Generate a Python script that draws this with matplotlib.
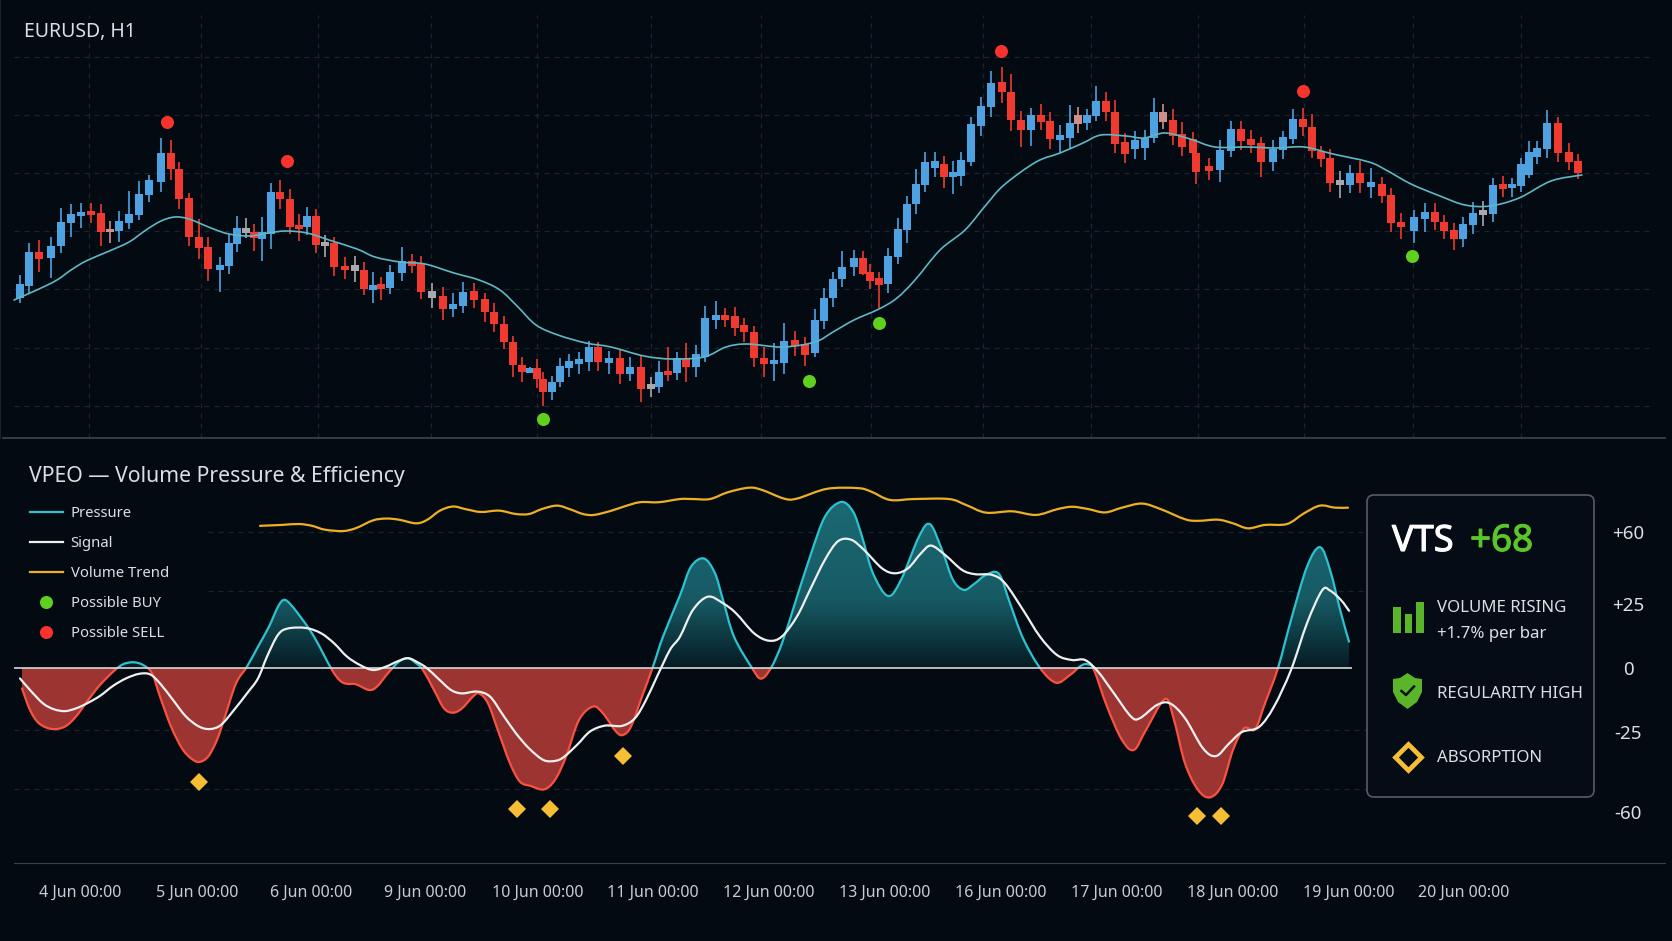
import numpy as np
import matplotlib
matplotlib.use('Agg')
import matplotlib.pyplot as plt
import matplotlib.patheffects as pe
from matplotlib.colors import LinearSegmentedColormap
from matplotlib.lines import Line2D
from matplotlib.patches import FancyBboxPatch, PathPatch, Polygon, Rectangle
from matplotlib.path import Path

plt.rcParams['font.family'] = ['Noto Sans', 'DejaVu Sans']

# candles, the time axis is in chart position units
bar_time = [20, 29, 39, 51, 61, 71, 81, 91, 101, 110, 119, 129, 139, 149, 161, 171, 179, 189, 199, 208,
            220, 229, 237, 246, 254, 262, 271, 280, 290, 299, 307, 316, 325, 334, 345, 355, 364, 373, 381, 390,
            402, 412, 421, 432, 443, 453, 463, 474, 485, 494, 504, 513, 522, 530, 537, 543, 552, 560, 569, 579,
            589, 598, 609, 620, 630, 641, 651, 659, 668, 677, 686, 696, 705, 716, 725, 735, 744, 754, 764, 774,
            784, 795, 805, 815, 824, 833, 842, 854, 863, 870, 879, 888, 898, 907, 916, 925, 935, 944, 953, 961,
            971, 981, 991, 1002, 1011, 1021, 1031, 1041, 1050, 1060, 1070, 1078, 1087, 1096, 1106, 1115, 1125, 1135, 1145, 1154,
            1163, 1173, 1182, 1193, 1196, 1209, 1220, 1231, 1241, 1251, 1261, 1273, 1283, 1293, 1303, 1312, 1321, 1330, 1340, 1350,
            1360, 1371, 1382, 1391, 1401, 1414, 1425, 1435, 1444, 1454, 1463, 1473, 1483, 1493, 1503, 1512, 1521, 1529, 1537, 1547,
            1558, 1569, 1578]
opens = [142, 154, 188, 182, 194, 217, 224, 229, 227, 211, 209, 217, 225, 245, 258, 287, 271, 242, 203, 193,
         170, 174, 196, 207, 208, 201, 206, 248, 241, 215, 213, 224, 194, 197, 174, 169, 170, 150, 156, 152,
         167, 179, 177, 142, 144, 131, 134, 149, 141, 128, 116, 98, 75, 67, 72, 61, 48, 58, 72, 76,
         78, 93, 77, 82, 66, 73, 51, 53, 69, 67, 82, 73, 83, 120, 125, 124, 115, 108, 82, 76,
         77, 100, 96, 87, 119, 142, 161, 173, 182, 168, 162, 156, 183, 210, 236, 255, 272, 276, 263, 264,
         278, 314, 333, 358, 348, 320, 310, 325, 319, 300, 302, 316, 317, 324, 339, 328, 298, 291, 292, 302,
         318, 320, 306, 301, 287, 274, 270, 289, 311, 301, 297, 278, 290, 301, 321, 313, 289, 282, 255, 255,
         267, 253, 256, 245, 218, 209, 221, 228, 218, 210, 201, 215, 225, 226, 256, 252, 254, 265, 283, 291,
         317, 288, 279]
closes = [156, 188, 181, 194, 218, 226, 228, 225, 208, 208, 219, 226, 246, 260, 287, 271, 241, 203, 192, 171,
          175, 197, 212, 212, 202, 208, 248, 241, 213, 211, 224, 195, 198, 173, 170, 175, 151, 155, 151, 168,
          179, 174, 148, 149, 131, 136, 148, 140, 128, 116, 98, 75, 68, 72, 61, 48, 58, 74, 79, 81,
          93, 78, 82, 66, 73, 51, 56, 68, 65, 82, 73, 86, 122, 125, 120, 112, 108, 82, 76, 80,
          99, 94, 85, 120, 142, 161, 173, 182, 166, 159, 155, 184, 211, 236, 256, 278, 279, 263, 268, 280,
          316, 334, 357, 348, 320, 310, 325, 318, 301, 305, 317, 325, 325, 339, 328, 296, 286, 300, 302, 328,
          328, 304, 293, 287, 268, 269, 290, 311, 299, 295, 278, 291, 303, 321, 313, 289, 281, 257, 260, 267,
          257, 258, 244, 217, 213, 223, 228, 218, 209, 201, 216, 227, 230, 255, 251, 256, 276, 288, 292, 317,
          287, 278, 267]
highs = [165, 197, 200, 203, 232, 236, 237, 237, 236, 219, 229, 249, 259, 265, 302, 300, 278, 247, 221, 203,
         183, 206, 224, 222, 216, 223, 257, 260, 251, 226, 233, 231, 205, 203, 183, 184, 178, 168, 163, 175,
         193, 186, 184, 157, 153, 147, 158, 157, 147, 137, 124, 104, 83, 73, 81, 68, 64, 82, 86, 88,
         99, 98, 89, 91, 83, 84, 63, 79, 93, 88, 97, 95, 134, 139, 132, 133, 122, 114, 93, 97,
         117, 109, 103, 131, 152, 168, 189, 190, 189, 176, 168, 192, 222, 244, 271, 288, 288, 284, 279, 288,
         323, 343, 369, 373, 366, 329, 332, 336, 328, 315, 335, 333, 331, 354, 348, 340, 307, 309, 310, 342,
         336, 331, 318, 308, 300, 282, 300, 319, 319, 310, 303, 300, 309, 331, 332, 326, 294, 291, 269, 275,
         279, 272, 263, 252, 227, 230, 237, 237, 225, 217, 223, 238, 239, 262, 264, 262, 282, 299, 299, 330,
         323, 297, 286]
lows = [137, 147, 168, 162, 187, 203, 212, 217, 194, 197, 198, 211, 220, 238, 248, 260, 231, 194, 181, 159,
        148, 166, 188, 202, 189, 179, 191, 231, 206, 199, 205, 187, 183, 164, 161, 158, 145, 137, 140, 146,
        159, 167, 141, 132, 120, 123, 127, 132, 118, 108, 91, 63, 58, 67, 52, 34, 40, 53, 63, 66,
        69, 69, 66, 56, 59, 38, 43, 47, 59, 60, 58, 63, 78, 111, 113, 104, 98, 73, 63, 59,
        66, 84, 74, 83, 111, 133, 153, 164, 165, 151, 132, 147, 176, 197, 226, 248, 263, 252, 246, 254,
        274, 304, 323, 337, 309, 293, 294, 310, 291, 287, 292, 307, 310, 319, 319, 287, 277, 281, 280, 297,
        311, 295, 284, 278, 256, 260, 258, 283, 290, 287, 263, 269, 281, 296, 304, 282, 273, 248, 242, 247,
        247, 242, 237, 208, 201, 197, 208, 210, 201, 190, 193, 206, 214, 218, 243, 243, 248, 262, 276, 282,
        278, 270, 261]
neutral_bars = [23, 32, 35, 43, 66, 138, 152]
pink_bars = [9, 111, 120]

ma_time = [14, 39, 57, 71, 86, 107, 129, 146, 161, 175, 189, 211, 229, 250, 268, 286, 307, 329, 357, 375, 400, 425, 454, 479,
           500, 518, 536, 558, 586, 611, 644, 672, 704, 726, 747, 783, 815, 833, 854, 879, 897, 915, 940, 965, 986, 1004, 1036,
           1060, 1083, 1101, 1126, 1144, 1165, 1190, 1215, 1247, 1276, 1304, 1333, 1369, 1386, 1411, 1440, 1465, 1490, 1519, 1551, 1582]
ma_vals = [140, 151, 160, 170, 179, 188, 198, 210, 219, 223, 221, 212, 206, 204, 207, 209, 207, 200, 191, 183, 178, 176, 167, 160,
           150, 133, 115, 105, 97, 93, 84, 81, 83, 93, 96, 93, 98, 108, 120, 131, 142, 160, 190, 210, 235, 255, 278,
           287, 297, 305, 304, 302, 307, 301, 293, 293, 292, 293, 286, 278, 270, 256, 244, 235, 234, 242, 259, 265]

sell_time = [167, 287, 1001, 1303]
sell_vals = [318, 279, 389, 349]
buy_time = [543, 809, 879, 1412]
buy_vals = [21, 59, 117, 184]

price_levels = [34, 92, 151, 209, 267, 325, 383]
day_lines = [89, 201, 318, 431, 537, 651, 761, 871, 983, 1091, 1198, 1304, 1413, 1521]

# indicator
press_time = [22, 30, 39, 52, 65, 76, 87, 100, 115, 124, 134, 143, 152, 160, 171, 182, 191, 199, 208, 217, 225, 236, 247,
              258, 269, 278, 284, 291, 304, 314, 323, 332, 340, 347, 356, 369, 377, 388, 399, 408, 416, 423, 434, 444, 453,
              462, 473, 479, 488, 499, 510, 520, 531, 544, 555, 566, 579, 593, 603, 616, 623, 631, 642, 653, 663, 680,
              691, 704, 715, 723, 734, 752, 761, 771, 782, 795, 810, 825, 841, 853, 862, 873, 888, 901, 919, 930, 942,
              953, 964, 975, 986, 999, 1010, 1023, 1040, 1056, 1070, 1081, 1088, 1094, 1107, 1122, 1134, 1146, 1165, 1174,
              1185, 1198, 1210, 1222, 1233, 1244, 1255, 1265, 1278, 1291, 1307, 1320, 1330, 1341, 1349]
press_vals = [-9.0, -18.5, -24.4, -26.9, -25.8, -21.4, -14.8, -7.5, -0.9, 1.8, 2.5, 1.3, -2.3, -12.6, -25.8, -35.4, -39.8, -41.4, -39.1, -31.7, -21.4, -6.8, 0.6,
              9.4, 18.2, 27.0, 30.0, 27.8, 20.4, 13.8, 6.5, -0.9, -5.6, -7.0, -7.2, -9.7, -8.2, -2.3, 2.8, 4.3, 2.1, -0.9, -9.7, -17.8, -19.7,
              -17.8, -12.6, -11.2, -15.6, -28.8, -42.0, -50.1, -52.0, -53.5, -49.3, -39.1, -22.9, -17.0, -20.0, -28.0, -29.5, -25.8, -12.6, 0.6, 13.8, 32.0,
              44.6, 48.2, 41.7, 30.0, 13.8, 0.0, -4.7, 0.0, 10.9, 28.5, 49.0, 66.7, 73.1, 68.9, 57.9, 41.7, 31.7, 38.8, 57.9, 63.3, 52.0,
              38.8, 34.4, 37.3, 41.0, 41.4, 28.5, 13.1, 0.0, -6.5, -3.1, 1.0, 1.6, -0.9, -17.0, -31.7, -36.1, -27.3, -13.7, -22.9,
              -42.0, -53.7, -57.0, -51.5, -36.1, -26.6, -27.0, -15.6, 0.0, 21.1, 44.6, 53.2, 43.2, 24.1, 11.6]
signal_time = [20, 30, 43, 54, 65, 76, 87, 100, 113, 126, 139, 150, 160, 173, 186, 199, 210, 221, 234, 247, 258, 267, 278, 288,
               306, 321, 334, 347, 360, 373, 386, 397, 408, 418, 427, 438, 451, 462, 477, 490, 503, 516, 529, 542, 551, 562,
               577, 590, 605, 622, 635, 646, 657, 670, 680, 693, 708, 723, 736, 754, 769, 782, 797, 810, 825, 838, 851, 864,
               882, 895, 908, 921, 931, 945, 962, 975, 992, 1005, 1023, 1040, 1057, 1072, 1085, 1098, 1114, 1131, 1140, 1157,
               1170, 1185, 1203, 1216, 1229, 1242, 1259, 1274, 1291, 1307, 1322, 1330, 1341, 1349]
signal_vals = [-4.6, -9.7, -15.6, -18.2, -19.0, -17.8, -15.6, -12.3, -7.9, -4.6, -2.6, -2.8, -6.8, -14.1, -21.4, -25.8, -26.9, -25.1, -18.5, -11.2, -4.6, 5.0, 14.6, 17.4,
               17.6, 15.3, 10.9, 5.0, 1.3, -0.9, 0.6, 2.8, 4.3, 2.4, -0.1, -4.6, -9.7, -11.2, -10.4, -12.6, -20.7, -28.8, -35.4, -40.2, -41.1, -39.8,
               -33.9, -28.0, -25.4, -25.5, -22.1, -14.1, -3.8, 8.0, 13.8, 25.6, 31.4, 28.5, 24.1, 15.3, 12.0, 13.9, 22.7, 34.4, 47.7, 55.8, 56.5, 52.0,
               43.9, 41.7, 43.9, 50.5, 53.9, 49.8, 43.2, 41.3, 41.0, 37.3, 25.6, 13.8, 5.7, 3.5, 3.5, -1.6, -11.2, -21.4, -22.1, -16.3,
               -15.6, -22.1, -35.4, -38.8, -33.3, -28.2, -26.0, -17.0, -0.9, 19.7, 34.1, 34.1, 29.9, 25.2]
trend_time = [260, 282, 299, 312, 325, 343, 356, 373, 386, 399, 416, 427, 440, 453, 466, 481, 499, 516, 529, 542, 557, 570, 583, 594,
              611, 624, 640, 659, 680, 693, 710, 728, 749, 762, 784, 797, 827, 858, 871, 890, 914, 949, 966, 986, 1012, 1036,
              1057, 1072, 1088, 1105, 1122, 1142, 1161, 1185, 1198, 1218, 1233, 1248, 1265, 1287, 1304, 1320, 1335, 1348]
trend_vals = [62.6, 63.0, 63.4, 62.6, 60.9, 60.3, 61.6, 65.0, 65.8, 65.3, 63.7, 65.2, 69.3, 71.1, 69.9, 68.7, 69.3, 67.8, 67.8, 70.0, 71.5, 69.9, 67.8, 67.4,
              69.2, 71.1, 73.0, 73.0, 74.4, 74.4, 74.4, 77.4, 79.4, 78.4, 74.6, 74.6, 78.9, 79.2, 77.7, 74.0, 74.4, 74.4, 71.8, 68.4, 69.0, 67.4,
              69.9, 71.0, 70.0, 68.5, 70.6, 72.4, 69.9, 65.5, 64.8, 65.3, 63.7, 61.5, 63.0, 63.4, 68.1, 71.5, 70.6, 70.6]
absorb_time = [199, 517, 550, 623, 1197, 1221]
absorb_vals = [-50.1, -62.3, -62.3, -38.6, -65.2, -65.2]

osc_levels_long = [-27.3, -53.3]
osc_levels_short = [59.9, 33.9]
osc_ticks = [60, 28, 0, -28.2, -63.5]
osc_tick_labels = ['+60', '+25', '0', '-25', '-60']
date_pos = [80, 197, 311, 425, 538, 653, 769, 885, 1001, 1117, 1233, 1349, 1464]
date_labels = ['4 Jun 00:00', '5 Jun 00:00', '6 Jun 00:00', '9 Jun 00:00', '10 Jun 00:00', '11 Jun 00:00',
               '12 Jun 00:00', '13 Jun 00:00', '16 Jun 00:00', '17 Jun 00:00', '18 Jun 00:00', '19 Jun 00:00', '20 Jun 00:00']
volume_bars = [26, 19, 31]

BG = '#030a12'
GRID = '#1d242d'
BLUE = '#4ea2e2'
RED = '#f0392f'
GREEN = '#5fd01e'
SELL = '#f8332e'
TEAL = '#2cc3d0'
ORANGE = '#eeb021'
YELLOW = '#f6bf33'
TEXT = '#dcdfe2'
DASH = (0, (4, 4))


def curve_path(x, y, base=None):
    # bezier path that passes through the read points, so the lines stay round
    pts = np.column_stack([x, y])
    verts = [pts[0]]
    codes = [Path.MOVETO]
    for i in range(len(pts) - 1):
        before = pts[max(i - 1, 0)]
        after = pts[min(i + 2, len(pts) - 1)]
        verts += [pts[i] + (pts[i + 1] - before) / 6, pts[i + 1] - (after - pts[i]) / 6, pts[i + 1]]
        codes += [Path.CURVE4] * 3
    if base is not None:
        verts += [(x[-1], base), (x[0], base), pts[0]]
        codes += [Path.LINETO, Path.LINETO, Path.CLOSEPOLY]
    return Path(verts, codes)


def draw_curve(ax, x, y, color, lw, zorder):
    patch = PathPatch(curve_path(x, y), facecolor='none', edgecolor=color, lw=lw, zorder=zorder, capstyle='round')
    ax.add_patch(patch)
    return patch


fig = plt.figure(figsize=(16.72, 9.41), dpi=100, facecolor=BG)

# top panel, price
ax1 = fig.add_axes([0, 503 / 941, 1, 438 / 941], facecolor=BG)
ax1.set_xlim(0, 1672)
ax1.set_ylim(2, 440)
ax1.set_xticks([])
ax1.set_yticks([])
for side in ['top', 'right']:
    ax1.spines[side].set_visible(False)
ax1.spines['bottom'].set_color('#3b4149')
ax1.spines['bottom'].set_linewidth(1.3)
ax1.spines['bottom'].set_bounds(3, 1665)
ax1.spines['left'].set_color('#1b2129')
ax1.hlines(price_levels, 14, 1650, color=GRID, lw=0.9, linestyles=DASH, zorder=1)
ax1.vlines(day_lines, 2, 425, color=GRID, lw=0.9, linestyles=DASH, zorder=1)

colors = []
for i in range(len(opens)):
    if i in neutral_bars:
        colors.append('#a9a8ac')
    elif i in pink_bars:
        colors.append('#cf8f8a')
    elif closes[i] >= opens[i]:
        colors.append(BLUE)
    else:
        colors.append(RED)
bottoms = np.minimum(opens, closes)
heights = np.abs(np.array(closes) - np.array(opens))
ax1.vlines(bar_time, lows, highs, color=colors, lw=1.2, zorder=2)
ax1.bar(bar_time, heights, bottom=bottoms, width=7.4, color=colors, zorder=3)
draw_curve(ax1, ma_time, ma_vals, '#5fb8c4', 1.2, 4)
ax1.plot(sell_time, sell_vals, 'o', color=SELL, ms=9.4, mew=0, zorder=5)
ax1.plot(buy_time, buy_vals, 'o', color=GREEN, ms=9.4, mew=0, zorder=5)
ax1.text(24, 408, 'EURUSD, H1', color=TEXT, fontsize=14, va='center')

# bottom panel, oscillator
ax2 = fig.add_axes([0, 78 / 941, 1, 423 / 941], facecolor=BG)
ax2.set_xlim(0, 1672)
ax2.set_ylim(-85.9, 100.4)
for side in ['top', 'right', 'left']:
    ax2.spines[side].set_visible(False)
ax2.spines['bottom'].set_color('#3b4149')
ax2.spines['bottom'].set_bounds(14, 1665)
ax2.hlines(osc_levels_short, 208, 1366, color=GRID, lw=0.9, linestyles=DASH, zorder=1)
ax2.hlines(osc_levels_long, 14, 1366, color=GRID, lw=0.9, linestyles=DASH, zorder=1)

# teal area has a vertical gradient, red area is flat
area = curve_path(press_time, press_vals, base=0)
teal_map = LinearSegmentedColormap.from_list('teal', [(0, '#071a22'), (0.12, '#0b2f38'), (0.4, '#175a64'), (1, '#1b6a74')])
grad = ax2.imshow(np.linspace(0, 1, 256).reshape(-1, 1), extent=(0, 1672, 0, 75), origin='lower',
                  aspect='auto', cmap=teal_map, zorder=2)
grad.set_clip_path(area, ax2.transData)
ax2.set_xlim(0, 1672)
ax2.set_ylim(-85.9, 100.4)

above = Rectangle((0, 0), 1672, 101, transform=ax2.transData)
below = Rectangle((0, -86), 1672, 86, transform=ax2.transData)
red_area = PathPatch(area, facecolor='#9c3432', edgecolor='none', zorder=2)
ax2.add_patch(red_area)
red_area.set_clip_path(below)
draw_curve(ax2, press_time, press_vals, TEAL, 1.6, 3).set_clip_path(above)
draw_curve(ax2, press_time, press_vals, '#fa5140', 1.6, 3).set_clip_path(below)
ax2.hlines(0, 14, 1352, color='#d6d8da', lw=1.2, zorder=4)
draw_curve(ax2, signal_time, signal_vals, '#eef0f0', 1.6, 5)
draw_curve(ax2, trend_time, trend_vals, ORANGE, 1.6, 5)
ax2.plot(absorb_time, absorb_vals, 'D', color=YELLOW, ms=9, mew=0, zorder=5)
ax2.text(29, 84.5, 'VPEO — Volume Pressure & Efficiency', color=TEXT, fontsize=15.3, va='center')

ax2.yaxis.tick_right()
ax2.set_yticks(osc_ticks, osc_tick_labels)
ax2.tick_params(axis='y', length=0, pad=-31.7, labelsize=13.5, labelcolor=TEXT)
for lab in ax2.get_yticklabels():
    lab.set_ha('center')
ax2.set_xticks(date_pos, date_labels)
ax2.tick_params(axis='x', length=0, pad=16, labelsize=11.5, labelcolor='#c8ccd0')

handles = [Line2D([], [], color=TEAL, lw=1.6, label='Pressure'),
           Line2D([], [], color='#eef0f0', lw=1.6, label='Signal'),
           Line2D([], [], color=ORANGE, lw=1.6, label='Volume Trend'),
           Line2D([], [], ls='none', marker='o', color=GREEN, ms=9.4, mew=0, label='Possible BUY'),
           Line2D([], [], ls='none', marker='o', color=SELL, ms=9.4, mew=0, label='Possible SELL')]
ax2.legend(handles=handles, loc='upper left', bbox_to_anchor=(30 / 1672, 0.843), frameon=False, borderpad=0,
           borderaxespad=0, fontsize=10.7, labelcolor=TEXT, handlelength=2.2, handletextpad=0.54, labelspacing=1.0)

# status box
ax3 = fig.add_axes([1367 / 1672, 144 / 941, 227 / 1672, 302 / 941], facecolor='none')
ax3.set_xlim(0, 227)
ax3.set_ylim(302, 0)
ax3.axis('off')
box = FancyBboxPatch((0, 0), 227, 302, boxstyle='round,pad=0,rounding_size=7', facecolor='#050c15',
                     edgecolor='#575b61', lw=1.2, clip_on=False, zorder=0)
ax3.add_patch(box)
ax3.text(25, 47, 'VTS', color='white', fontsize=26, va='center',
         path_effects=[pe.withStroke(linewidth=0.8, foreground='white')])
ax3.text(103, 47, '+68', color='#5cc52a', fontsize=26.5, va='center',
         path_effects=[pe.withStroke(linewidth=0.8, foreground='#5cc52a')])
ax3.bar([30, 41.5, 53], volume_bars, bottom=[138 - h for h in volume_bars], width=7.6, color='#5ab52a')
ax3.text(70, 113, 'VOLUME RISING', color=TEXT, fontsize=12.1, va='center')
ax3.text(70, 139, '+1.7% per bar', color=TEXT, fontsize=12.1, va='center')
ax3.add_patch(Polygon([(40.5, 178), (48, 183), (55, 184), (55, 197), (50, 207), (40.5, 214), (31, 207), (26, 197), (26, 184), (33, 183)],
                      facecolor='#5ab52a', edgecolor='none'))
ax3.plot([34.5, 39, 47], [196, 200, 191.5], color='#07120c', lw=1.8)
ax3.text(70, 199, 'REGULARITY HIGH', color=TEXT, fontsize=12.1, va='center')
ax3.plot([41], [262], 'D', mfc='none', mec=YELLOW, mew=3.4, ms=13)
ax3.text(70, 263, 'ABSORPTION', color=TEXT, fontsize=12.1, va='center')

fig.savefig('out.png', dpi=100, facecolor=BG)
